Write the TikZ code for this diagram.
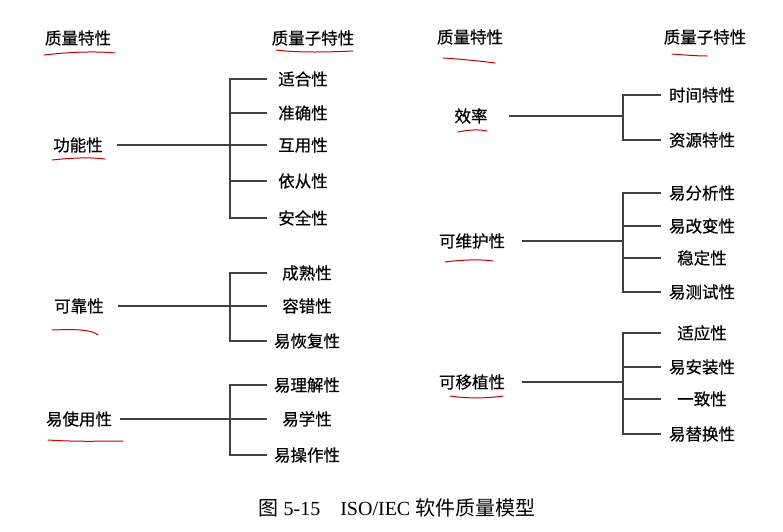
\documentclass[tikz,border=0pt]{standalone}
\usepackage{fontspec}
\setmainfont{Liberation Serif}
\newfontfamily\cjk[FakeBold=0.5]{Noto Sans CJK SC}
\newfontfamily\capcjk{Noto Sans CJK SC}
\usetikzlibrary{calc}

\begin{document}
\begin{tikzpicture}[x=1pt,y=-1pt,
  head/.style={font=\cjk\fontsize{16.5}{18}\selectfont,inner sep=0pt},
  main/.style={font=\cjk\fontsize{16.5}{18}\selectfont,inner xsep=14pt,inner ysep=0pt},
  sub/.style={font=\cjk\fontsize{16.5}{18}\selectfont,inner sep=0pt},
  capt/.style={font=\fontsize{20}{22}\selectfont,inner sep=0pt},
  ln/.style={line width=1.1pt,draw=black!75},
  mk/.style={draw=red!80!black,line width=1pt,line cap=round}]
\useasboundingbox[fill=white] (0,0) rectangle (783,531);
\node[head] (h1) at (78,38) {质量特性};
\node[head] (h2) at (313,38) {质量子特性};
\node[head] (h3) at (470,37) {质量特性};
\node[head] (h4) at (705,37) {质量子特性};
\node[main] (func) at (78,145) {功能性};
\node[sub] (f1) at (303,79) {适合性};
\node[sub] (f2) at (303,113) {准确性};
\node[sub] (f3) at (303,145) {互用性};
\node[sub] (f4) at (303,181) {依从性};
\node[sub] (f5) at (303,218) {安全性};
\node[main] (rel) at (79,306) {可靠性};
\node[sub] (r1) at (307,273) {成熟性};
\node[sub] (r2) at (307,306) {容错性};
\node[sub] (r3) at (307,341) {易恢复性};
\node[main,inner xsep=8pt] (use) at (79,419) {易使用性};
\node[sub] (u1) at (307,385) {易理解性};
\node[sub] (u2) at (307,419) {易学性};
\node[sub] (u3) at (307,455) {易操作性};
\node[main,inner xsep=21pt] (eff) at (471,116) {效率};
\node[sub] (e1) at (702,95) {时间特性};
\node[sub] (e2) at (702,140) {资源特性};
\node[main,inner xsep=17pt] (mnt) at (472,241) {可维护性};
\node[sub] (m1) at (702,193) {易分析性};
\node[sub] (m2) at (702,226) {易改变性};
\node[sub] (m3) at (702,258) {稳定性};
\node[sub] (m4) at (702,292) {易测试性};
\node[main,inner xsep=17pt] (prt) at (472,382) {可移植性};
\node[sub] (p1) at (702,333) {适应性};
\node[sub] (p2) at (702,367) {易安装性};
\node[sub] (p3) at (702,399) {一致性};
\node[sub] (p4) at (702,434) {易替换性};
\node[capt] (fig) at (397,508) {{\capcjk 图} 5-15\hspace{20pt}ISO/IEC {\capcjk 软件质量模型}};
\coordinate (lbr) at (230,0);
\coordinate (lend) at (267,0);
\coordinate (rbr) at (623,0);
\coordinate (rend) at (661,0);
\draw[ln] (func) -- (lend |- func);
\draw[ln] (lend |- f1) -- (lbr |- f1) -- (lbr |- f5) -- (lend |- f5);
\foreach \c in {f2,f4} \draw[ln] (lbr |- \c) -- (lend |- \c);
\draw[ln] (rel) -- (lend |- rel);
\draw[ln] (lend |- r1) -- (lbr |- r1) -- (lbr |- r3) -- (lend |- r3);
\draw[ln] (use) -- (lend |- use);
\draw[ln] (lend |- u1) -- (lbr |- u1) -- (lbr |- u3) -- (lend |- u3);
\draw[ln] (eff) -- (rbr |- eff);
\draw[ln] (rend |- e1) -- (rbr |- e1) -- (rbr |- e2) -- (rend |- e2);
\draw[ln] (mnt) -- (rbr |- mnt);
\draw[ln] (rend |- m1) -- (rbr |- m1) -- (rbr |- m4) -- (rend |- m4);
\foreach \c in {m2,m3} \draw[ln] (rbr |- \c) -- (rend |- \c);
\draw[ln] (prt) -- (rbr |- prt);
\draw[ln] (rend |- p1) -- (rbr |- p1) -- (rbr |- p4) -- (rend |- p4);
\foreach \c in {p2,p3} \draw[ln] (rbr |- \c) -- (rend |- \c);
\draw[mk] (44,55) .. controls (70,52) and (95,51) .. (115,53);
\draw[mk] (276,50) .. controls (300,53) and (330,52) .. (353,51);
\draw[mk] (52,160) .. controls (70,158) and (90,157) .. (105,159);
\draw[mk] (52,330) .. controls (80,329) and (92,330) .. (98,335);
\draw[mk] (48,440) .. controls (80,442) and (100,441) .. (123,441);
\draw[mk] (443,58) .. controls (460,59) and (480,61) .. (495,63);
\draw[mk] (672,54) .. controls (685,55) and (697,56) .. (707,56);
\draw[mk] (458,132) .. controls (468,130) and (478,129) .. (487,131);
\draw[mk] (445,262) .. controls (460,260) and (480,259) .. (493,261);
\draw[mk] (450,396) .. controls (470,399) and (490,398) .. (503,396);
\end{tikzpicture}
\end{document}
